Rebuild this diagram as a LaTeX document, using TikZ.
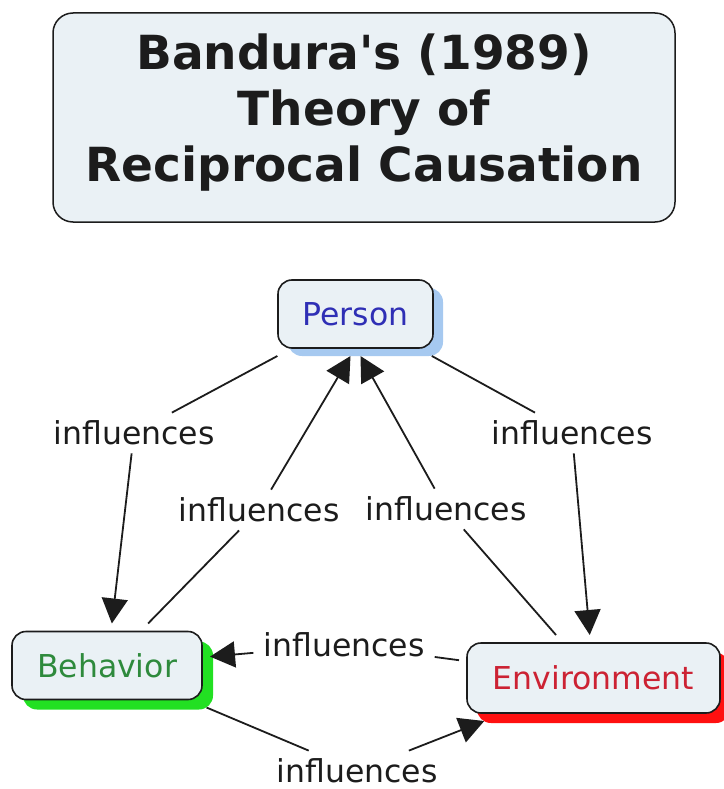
\documentclass[tikz,border=0pt]{standalone}
\usepackage{fontspec}
\setmainfont{DejaVu Sans}
\usetikzlibrary{arrows.meta,positioning,shadows}
\definecolor{boxfill}{HTML}{EAF1F5}
\definecolor{ink}{HTML}{1C1C1C}
\definecolor{personink}{HTML}{2F2FB5}
\definecolor{behaviorink}{HTML}{2E8A3C}
\definecolor{envink}{HTML}{CC2233}
\definecolor{personshade}{HTML}{A6C9F0}
\definecolor{behaviorshade}{HTML}{22E022}
\definecolor{envshade}{HTML}{FF1010}
\tikzset{
  every node/.style={text=ink},
  titlebox/.style={draw=ink,line width=1.5pt,rounded corners=20pt,fill=boxfill,align=center,
    minimum width=622pt,minimum height=209pt,font=\fontsize{47}{56}\selectfont\bfseries},
  concept/.style={draw=ink,line width=1.6pt,rounded corners=14pt,fill=boxfill,align=center,
    minimum height=68pt,outer sep=8pt,font=\fontsize{31.5}{36}\selectfont},
  personbox/.style={concept,minimum width=155pt,text=personink,
    drop shadow={shadow xshift=10pt,shadow yshift=-8pt,opacity=1,fill=personshade}},
  behaviorbox/.style={concept,minimum width=190pt,text=behaviorink,
    drop shadow={shadow xshift=11pt,shadow yshift=-10pt,opacity=1,fill=behaviorshade}},
  envbox/.style={concept,minimum width=253pt,minimum height=70pt,text=envink,
    drop shadow={shadow xshift=10pt,shadow yshift=-10pt,opacity=1,fill=envshade}},
  linkword/.style={inner xsep=10pt,inner ysep=8pt,font=\fontsize{31.5}{36}\selectfont},
  line/.style={draw=ink,line width=1.8pt},
  arrow/.style={line,-{Triangle[length=25pt,width=26pt]}},
}

\begin{document}
\begin{tikzpicture}[x=1pt,y=-1pt]
\useasboundingbox (0,0) rectangle (723,789);
\node[titlebox] (title) at (364,117.5)
  {Bandura\textquotesingle s (1989)\\Theory of\\Reciprocal Causation\rule[-19pt]{0pt}{0pt}};

\node[personbox] (person) at (355.5,314) {Person};
\node[behaviorbox] (behavior) at (107,665.5) {Behavior};
\node[envbox] (environment) at (593.5,678) {Environment};

% linking phrases
\node[linkword] (inf1) at (134,433) {influences};
\node[linkword] (inf2) at (259,510) {influences};
\node[linkword] (inf3) at (446,509) {influences};
\node[linkword] (inf4) at (572,433) {influences};
\node[linkword] (inf5) at (344,645) {influences};
\node[linkword] (inf6) at (357,771) {influences};

% person -> behavior, behavior -> person
\draw[line] (person) -- (inf1);
\draw[arrow] (inf1) -- (behavior);
\draw[line] (behavior) -- (inf2);
\draw[arrow] (inf2) -- ([xshift=-5pt]person.south);
% environment -> person, person -> environment
\draw[line] (environment) -- (inf3);
\draw[arrow] (inf3) -- ([xshift=5pt]person.south);
\draw[line] (person) -- (inf4);
\draw[arrow] (inf4) -- (environment);
% environment <-> behavior
\draw[line] (environment) -- (inf5);
\draw[arrow] (inf5) -- (behavior);
\draw[line] (behavior) -- (inf6);
\draw[arrow] (inf6) -- (environment);
\end{tikzpicture}
\end{document}
